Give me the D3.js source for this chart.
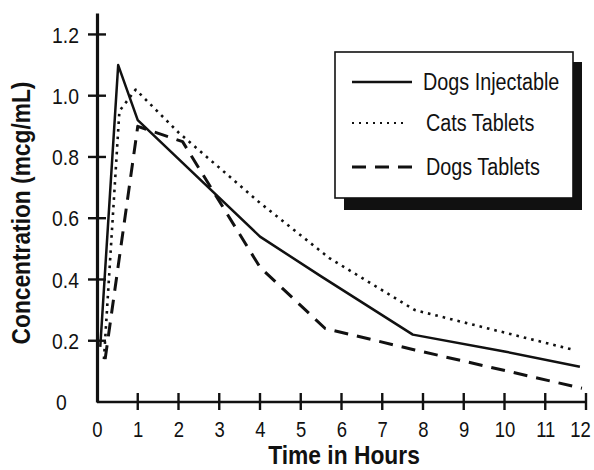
<!DOCTYPE html>
<html>
<head>
<meta charset="utf-8">
<script src="https://cdn.jsdelivr.net/npm/d3@7"></script>
<style>
  body { margin: 0; background: #fff; }
  svg { display: block; }
  text { font-family: 'Liberation Sans', Arial, sans-serif; fill: #111; }
  .axis-title { font-weight: bold; font-size: 25px; }
</style>
</head>
<body>
<svg id="chart"></svg>
<script>
// values (hours, mcg/mL)
const injTime  = [0.08, 0.52, 1.0, 4.0, 5.5, 7.75, 10, 11.85];
const injConc  = [0.18, 1.1, 0.92, 0.54, 0.41, 0.22, 0.165, 0.115];

const catTime  = [0.17, 0.55, 0.95, 2.0, 4.0, 5.7, 7.8, 11.7];
const catConc  = [0.14, 0.95, 1.02, 0.88, 0.65, 0.47, 0.30, 0.17];

const tabTime  = [0.2, 1.0, 2.1, 4.0, 5.6, 7.8, 11.9];
const tabConc  = [0.14, 0.9, 0.85, 0.44, 0.24, 0.17, 0.045];

const seriesNames = ['Dogs Injectable', 'Cats Tablets', 'Dogs Tablets'];
const xTicks = [0, 1, 2, 3, 4, 5, 6, 7, 8, 9, 10, 11, 12];
const yTicks = [0, 0.2, 0.4, 0.6, 0.8, 1.0, 1.2];

class PkChart {
  constructor(_config) {
    this.config = {
      parentElement: _config.parentElement,
      containerWidth: _config.containerWidth || 594,
      containerHeight: _config.containerHeight || 470,
      margin: { top: 13, bottom: 68, right: 8, left: 97 }
    };
    this.initVis();
  }

  initVis() {
    let vis = this;
    vis.width = vis.config.containerWidth - vis.config.margin.left - vis.config.margin.right;
    vis.height = vis.config.containerHeight - vis.config.margin.top - vis.config.margin.bottom;

    vis.svg = d3.select(vis.config.parentElement)
        .attr('width', vis.config.containerWidth)
        .attr('height', vis.config.containerHeight);

    vis.chart = vis.svg.append('g')
        .attr('transform', `translate(${vis.config.margin.left},${vis.config.margin.top})`);

    vis.xScale = d3.scaleLinear().domain([0, 12]).range([0, vis.width]);
    // axis line runs a bit above the 1.2 tick
    vis.yScale = d3.scaleLinear().domain([0, 1.27]).range([vis.height, 0]);

    // x axis (tick crosses drawn below)
    vis.xAxisG = vis.chart.append('g')
        .attr('transform', `translate(0,${vis.height})`)
        .call(d3.axisBottom(vis.xScale).tickValues(xTicks).tickSize(0).tickFormat(d3.format('d')));
    vis.xAxisG.select('.domain')
        .attr('stroke', '#111').attr('stroke-width', 2.6)
        .attr('d', `M0,0H${vis.xScale(12)}`);
    vis.xAxisG.selectAll('.tick text')
        .attr('y', 35).attr('dy', 0)
        .attr('transform', 'scale(0.84,1)')
        .style('font-size', '22px').attr('fill', '#111');
    // last label sits a little left of its tick so it stays inside
    vis.xAxisG.selectAll('.tick text').filter(d => d === 12)
        .attr('x', -6 / 0.84);

    // y axis
    vis.yAxisG = vis.chart.append('g')
        .call(d3.axisLeft(vis.yScale).tickValues(yTicks).tickSize(0)
          .tickFormat(d => d === 0 ? '0' : d3.format('.1f')(d)));
    vis.yAxisG.select('.domain').attr('stroke', '#111').attr('stroke-width', 3.2);
    vis.yAxisG.selectAll('.tick text')
        .attr('x', -45 / 0.88).attr('dy', '0.35em')
        .attr('text-anchor', 'start')
        .attr('transform', 'scale(0.88,1)')
        .style('font-size', '22px').attr('fill', '#111');
    vis.yAxisG.selectAll('.tick text').filter(d => d === 0)
        .attr('x', -41 / 0.88);

    // tick crosses
    vis.crosses = vis.chart.append('g').attr('class', 'crosses');
    vis.crosses.selectAll('.xcross')
      .data(xTicks.filter(d => d > 0))
      .enter()
      .append('path')
        .attr('class', 'xcross')
        .attr('d', d => `M${vis.xScale(d)},${vis.height - 9}V${vis.height + 8}`)
        .attr('stroke', '#111').attr('stroke-width', 2.4);
    vis.crosses.selectAll('.ycross')
      .data(yTicks.filter(d => d > 0))
      .enter()
      .append('path')
        .attr('class', 'ycross')
        .attr('d', d => `M-9,${vis.yScale(d)}H9`)
        .attr('stroke', '#111').attr('stroke-width', 2.4);

    // lines
    vis.line = d3.line()
        .x(d => vis.xScale(d[0]))
        .y(d => vis.yScale(d[1]));

    const styles = [
      { w: 2.5, dash: null },
      { w: 2.6, dash: '2.6 5' },
      { w: 3, dash: '14 9' }
    ];
    const series = [
      d3.zip(injTime, injConc),
      d3.zip(catTime, catConc),
      d3.zip(tabTime, tabConc)
    ];

    vis.chart.selectAll('.series')
      .data(series)
      .enter()
      .append('path')
        .attr('class', 'series')
        .attr('fill', 'none')
        .attr('stroke', '#111')
        .attr('stroke-width', (d, i) => styles[i].w)
        .attr('stroke-dasharray', (d, i) => styles[i].dash)
        .attr('stroke-linejoin', 'round')
        .attr('d', vis.line);

    // axis titles (condensed look via horizontal scale)
    vis.svg.append('text')
        .attr('class', 'axis-title')
        .attr('transform', 'translate(344,464) scale(0.913,1)')
        .attr('text-anchor', 'middle')
        .text('Time in Hours');

    vis.svg.append('text')
        .attr('class', 'axis-title')
        .attr('transform', 'translate(30,213) rotate(-90) scale(0.91,1)')
        .attr('text-anchor', 'middle')
        .text('Concentration (mcg/mL)');

    // legend with drop shadow
    const lg = vis.svg.append('g').attr('transform', 'translate(335,52)');
    lg.append('rect')
        .attr('x', 9).attr('y', 10)
        .attr('width', 238).attr('height', 148)
        .attr('fill', '#111');
    lg.append('rect')
        .attr('width', 238).attr('height', 146)
        .attr('fill', '#fff')
        .attr('stroke', '#111').attr('stroke-width', 1.6);

    const rows = lg.selectAll('.leg')
      .data(seriesNames)
      .enter()
      .append('g')
        .attr('class', 'leg')
        .attr('transform', (d, i) => `translate(0,${[30, 71, 115][i]})`);
    rows.append('line')
        .attr('x1', 17).attr('x2', (d, i) => [77, 72, 78][i])
        .attr('stroke', '#111')
        .attr('stroke-width', (d, i) => i === 1 ? 2 : styles[i].w)
        .attr('stroke-dasharray', (d, i) => i === 1 ? '2 5' : styles[i].dash);
    rows.append('text')
        .attr('transform', (d, i) => `translate(${i === 0 ? 88 : 91},7.5) scale(0.86,1)`)
        .style('font-size', '23px')
        .text(d => d);
  }
}

new PkChart({ parentElement: '#chart' });
</script>
</body>
</html>
